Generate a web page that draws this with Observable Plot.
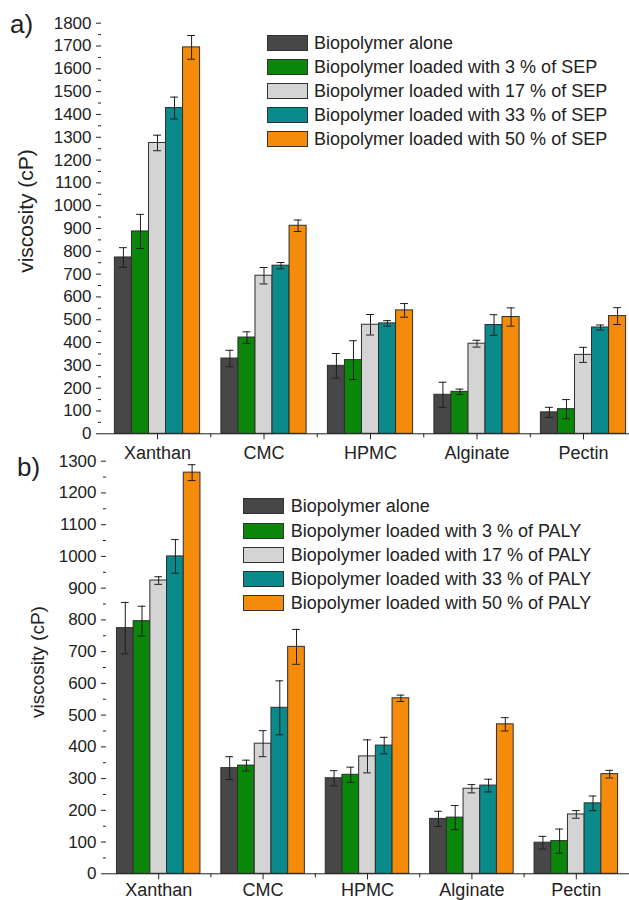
<!DOCTYPE html>
<html><head><meta charset="utf-8">
<script src="https://cdn.jsdelivr.net/npm/d3@7"></script>
<script src="https://cdn.jsdelivr.net/npm/@observablehq/plot@0.6"></script>
<style>
body{margin:0;background:#fff;font-family:"Liberation Sans",Arial,sans-serif;color:#222}
#wrap{position:relative;width:629px;height:900px;overflow:hidden}
.abs{position:absolute;white-space:nowrap;line-height:1}
.panel{position:absolute;left:0}
.ylab{transform:translate(-50%,-50%) rotate(-90deg)}
.leg{position:absolute;font-size:18px;color:#222}
.row{display:flex;align-items:center;position:absolute;left:0;white-space:nowrap;line-height:1}
.sw{width:39px;height:14px;border:1px solid #333;box-sizing:content-box;flex:none}
</style></head><body><div id="wrap"></div>
<script>
const categories = ["Xanthan", "CMC", "HPMC", "Alginate", "Pectin"];
const sepSeries = ["Biopolymer alone", "Biopolymer loaded with 3 % of SEP", "Biopolymer loaded with 17 % of SEP", "Biopolymer loaded with 33 % of SEP", "Biopolymer loaded with 50 % of SEP"];
const palySeries = ["Biopolymer alone", "Biopolymer loaded with 3 % of PALY", "Biopolymer loaded with 17 % of PALY", "Biopolymer loaded with 33 % of PALY", "Biopolymer loaded with 50 % of PALY"];
const colors = ["#474747", "#0a870a", "#d4d4d4", "#0a8a8a", "#f58b0a"];

// Panel a) SEP
const sepAlone = [773, 330, 298, 171, 94];
const sepAloneErr = [43, 36, 54, 55, 22];
const sep3 = [887, 422, 323, 184, 108];
const sep3Err = [75, 25, 85, 12, 42];
const sep17 = [1275, 693, 478, 395, 346];
const sep17Err = [34, 36, 45, 15, 33];
const sep33 = [1428, 737, 484, 477, 466];
const sep33Err = [48, 14, 12, 45, 11];
const sep50 = [1694, 912, 541, 512, 516];
const sep50Err = [52, 25, 30, 40, 37];

// Panel b) PALY
const palyAlone = [774, 333, 301, 173, 98];
const palyAloneErr = [81, 36, 24, 24, 20];
const paly3 = [796, 341, 312, 177, 103];
const paly3Err = [47, 17, 24, 38, 38];
const paly17 = [924, 410, 370, 268, 187];
const paly17Err = [12, 41, 52, 13, 12];
const paly33 = [1000, 523, 404, 278, 222];
const paly33Err = [53, 85, 26, 20, 23];
const paly50 = [1264, 715, 553, 471, 314];
const paly50Err = [25, 55, 10, 21, 12];

const yTicksA = d3.range(0, 1801, 100);
const yTicksB = d3.range(0, 1301, 100);

const groupWidth = 0.8, capHalf = 0.037;
function buildRows(names, valueLists, errLists) {
  const n = names.length, w = groupWidth / n;
  const rows = [];
  categories.forEach((c, ci) => {
    names.forEach((s, si) => {
      const x1 = ci - groupWidth / 2 + si * w;
      rows.push({category: c, series: s, value: valueLists[si][ci], err: errLists[si][ci], x1, x2: x1 + w, xc: x1 + w / 2});
    });
  });
  return rows;
}
const rowsA = buildRows(sepSeries, [sepAlone, sep3, sep17, sep33, sep50], [sepAloneErr, sep3Err, sep17Err, sep33Err, sep50Err]);
const rowsB = buildRows(palySeries, [palyAlone, paly3, paly17, paly33, paly50], [palyAloneErr, paly3Err, paly17Err, paly33Err, paly50Err]);

function panel({rows, names, yTicks, height, marginTop, marginBottom, marginLeft, xRange, xPad}) {
  const yMax = yTicks[yTicks.length - 1];
  return Plot.plot({
    width: 629, height, marginTop, marginBottom, marginLeft, marginRight: 0,
    style: {background: "transparent", fontFamily: '"Liberation Sans", Arial, sans-serif', fontSize: "17px", color: "#222", overflow: "visible"},
    x: {type: "linear", domain: [-0.5, 4.5], range: xRange},
    y: {domain: [0, yMax]},
    color: {domain: names, range: colors},
    marks: [
      Plot.rectY(rows, {x1: "x1", x2: "x2", y1: 0, y2: "value", fill: "series", stroke: "#2e2e2e", strokeWidth: 1}),
      Plot.ruleX(rows, {x: "xc", y1: d => d.value - d.err, y2: d => d.value + d.err, stroke: "#1e1e1e", strokeWidth: 1}),
      Plot.ruleY(rows, {y: d => d.value + d.err, x1: d => d.xc - capHalf, x2: d => d.xc + capHalf, stroke: "#1e1e1e", strokeWidth: 1}),
      Plot.ruleY(rows, {y: d => d.value - d.err, x1: d => d.xc - capHalf, x2: d => d.xc + capHalf, stroke: "#1e1e1e", strokeWidth: 1}),
      Plot.axisY({anchor: "left", ticks: yTicks, tickSize: 5, tickPadding: 5, tickFormat: d => String(d), label: null, line: true, fontSize: 17}),
      Plot.axisY({anchor: "left", ticks: d3.range(50, yMax, 100), tickSize: 3, tickFormat: () => "", label: null}),
      Plot.ruleY([0], {stroke: "#222"}),
      Plot.axisX({anchor: "bottom", ticks: [0, 1, 2, 3, 4], tickFormat: i => categories[i], tickSize: 6, tickPadding: xPad, label: null, fontSize: 18}),
      Plot.axisX({anchor: "bottom", ticks: [0.5, 1.5, 2.5, 3.5], tickSize: 4, tickFormat: () => "", label: null})
    ]
  });
}

const wrap = document.getElementById("wrap");

const divA = document.createElement("div");
divA.className = "panel"; divA.style.top = "0px";
divA.append(panel({rows: rowsA, names: sepSeries, yTicks: yTicksA, height: 470, marginTop: 22.7, marginBottom: 36.7, marginLeft: 101, xRange: [103.75, 636.25], xPad: 6}));
wrap.append(divA);

const divB = document.createElement("div");
divB.className = "panel"; divB.style.top = "440px";
divB.append(panel({rows: rowsB, names: palySeries, yTicks: yTicksB, height: 460, marginTop: 20.7, marginBottom: 26.7, marginLeft: 106, xRange: [106, 628], xPad: 3}));
wrap.append(divB);

function addText(txt, css, cls) {
  const d = document.createElement("div");
  d.className = "abs " + (cls || "");
  d.textContent = txt;
  Object.assign(d.style, css);
  wrap.append(d);
}
addText("a)", {left: "10px", top: "11px", fontSize: "26px"});
addText("b)", {left: "17px", top: "454px", fontSize: "26px"});
addText("viscosity (cP)", {left: "25px", top: "211px", fontSize: "21px"}, "ylab");
addText("viscosity (cP)", {left: "37px", top: "662px", fontSize: "19px"}, "ylab");

function legend(names, left, top, pitch, gap) {
  const box = document.createElement("div");
  box.className = "leg";
  box.style.left = left + "px"; box.style.top = top + "px";
  names.forEach((n, i) => {
    const r = document.createElement("div");
    r.className = "row";
    r.style.top = (i * pitch) + "px";
    const sw = document.createElement("div");
    sw.className = "sw"; sw.style.background = colors[i];
    const t = document.createElement("span");
    t.textContent = n; t.style.marginLeft = gap + "px";
    r.append(sw, t);
    box.append(r);
  });
  wrap.append(box);
}
legend(sepSeries, 266.5, 34.3, 24, 6.5);
legend(palySeries, 243.3, 497.3, 24.3, 6.5);
</script></body></html>
